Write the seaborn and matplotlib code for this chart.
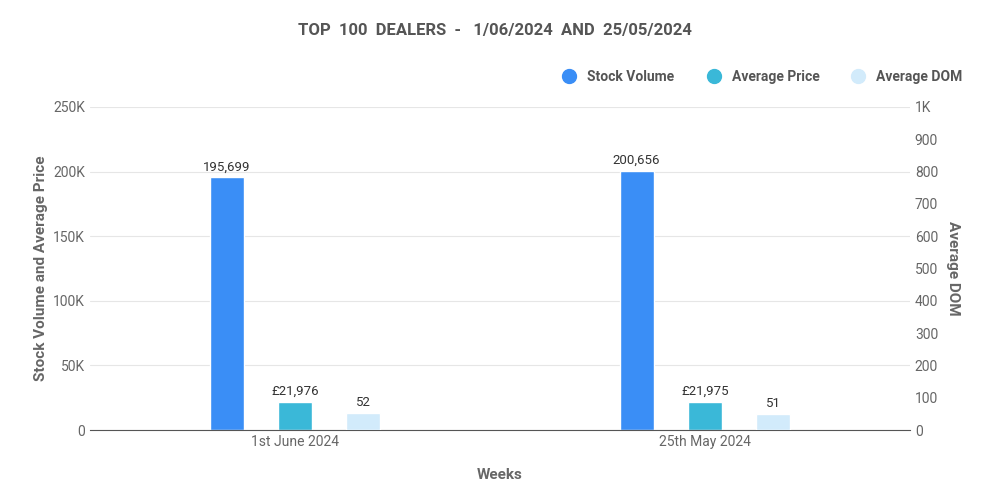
import numpy as np
import pandas as pd
import seaborn as sns
import matplotlib.pyplot as plt
from matplotlib.lines import Line2D
from matplotlib.ticker import FuncFormatter

weeks = ['1st June 2024', '25th May 2024']
stock_volume = [195699, 200656]
average_price = [21976, 21975]
average_dom = [52, 51]

series = ['Stock Volume', 'Average Price', 'Average DOM']
colors = ['#3a8ef6', '#3ab8d8', '#d2ebfb']

rows = []
for i, w in enumerate(weeks):
    rows.append((w, 'Stock Volume', stock_volume[i], np.nan))
    rows.append((w, 'Average Price', average_price[i], np.nan))
    rows.append((w, 'Average DOM', np.nan, average_dom[i]))
df = pd.DataFrame(rows, columns=['week', 'series', 'left', 'right'])

sns.set_style('white')
plt.rcParams['font.family'] = ['Roboto', 'DejaVu Sans']

fig, ax = plt.subplots(figsize=(10, 5), dpi=100)
fig.subplots_adjust(left=0.09, right=0.91, top=0.786, bottom=0.14)
ax2 = ax.twinx()

pal = dict(zip(series, colors))
sns.barplot(data=df, x='week', y='left', hue='series', hue_order=series, palette=pal,
            width=0.5, gap=0.5, ax=ax, legend=False, saturation=1)
sns.barplot(data=df, x='week', y='right', hue='series', hue_order=series, palette=pal,
            width=0.5, gap=0.5, ax=ax2, legend=False, saturation=1)

ax.set_xlim(-0.5, 1.5)
ax.set_ylim(0, 250000)
ax2.set_ylim(0, 1000)
ax.set_yticks(np.arange(0, 250001, 50000))
ax2.set_yticks(np.arange(0, 1001, 100))
ax.yaxis.set_major_formatter(FuncFormatter(lambda v, p: '0' if v == 0 else f'{int(v/1000)}K'))
ax2.yaxis.set_major_formatter(FuncFormatter(lambda v, p: '1K' if v == 1000 else f'{int(v)}'))
ax.grid(axis='y', color='#e6e6e6', lw=0.8)
ax.set_axisbelow(True)
for a in (ax, ax2):
    for s in a.spines.values():
        s.set_visible(False)
    a.tick_params(length=0, labelsize=10, colors='#666666')
ax.spines['bottom'].set_visible(True)
ax.spines['bottom'].set_color('#555555')

# value labels
for c in ax.containers:
    for bar in c:
        h = bar.get_height()
        if np.isnan(h) or h == 0:
            continue
        lbl = f'£{int(h):,}' if h < 100000 else f'{int(h):,}'
        ax.text(bar.get_x() + bar.get_width() / 2, h + 3000, lbl,
                ha='center', va='bottom', fontsize=9.5, color='#333333')
for c in ax2.containers:
    for bar in c:
        h = bar.get_height()
        if np.isnan(h) or h == 0:
            continue
        ax2.text(bar.get_x() + bar.get_width() / 2, h + 12, f'{int(h)}',
                 ha='center', va='bottom', fontsize=9.5, color='#333333')

ax.set_xlabel('Weeks', fontsize=11, fontweight='bold', color='#666666', labelpad=14)
ax.set_ylabel('Stock Volume and Average Price', fontsize=11, fontweight='bold', color='#666666')
ax2.set_ylabel('Average DOM', fontsize=11, fontweight='bold', color='#666666', rotation=270, labelpad=16)

fig.suptitle('TOP  100  DEALERS  -   1/06/2024  AND  25/05/2024', x=0.495, y=0.955,
             fontsize=12, fontweight='bold', color='#555555')

handles = [Line2D([], [], marker='o', ls='', markersize=10, color=c) for c in colors]
fig.legend(handles, series, loc='upper right', bbox_to_anchor=(0.975, 0.885), ncol=3,
           frameon=False, fontsize=10, handletextpad=0.3, columnspacing=1.8,
           labelcolor='#555555', prop={'weight': 'bold', 'size': 10})

fig.savefig('out.png')
